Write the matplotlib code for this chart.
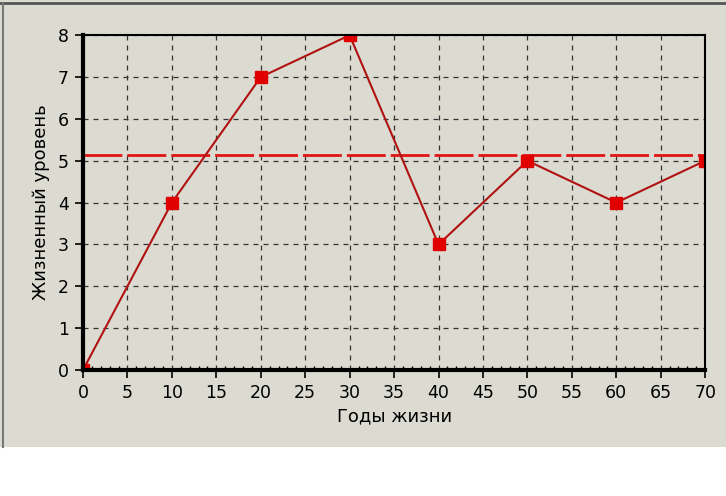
import matplotlib
matplotlib.use("Agg")
import matplotlib.pyplot as plt
from matplotlib.patches import Rectangle
from matplotlib.lines import Line2D
from matplotlib.ticker import MultipleLocator

years = [0, 10, 20, 30, 40, 50, 60, 70]
level = [0, 4, 7, 8, 3, 5, 4, 5]
ref_level = 5.13
x_ticks = list(range(0, 71, 5))
y_ticks = list(range(0, 9))
xlabel = "Годы жизни"
ylabel = "Жизненный уровень"

bg = "#dcdbd1"
fig = plt.figure(figsize=(7.26, 4.96), dpi=100, facecolor="white")
fig.patches.append(Rectangle((0, 0.099), 1, 0.901, transform=fig.transFigure,
                             facecolor=bg, edgecolor="none", zorder=-10))
fig.lines.append(Line2D([0, 1], [0.994, 0.994], transform=fig.transFigure,
                        color="#555555", lw=2, zorder=-9))
fig.lines.append(Line2D([0.004, 0.004], [0.099, 0.994], transform=fig.transFigure,
                        color="#777777", lw=1.5, zorder=-9))

ax = fig.add_axes([0.1143, 0.254, 0.857, 0.675])
ax.set_facecolor(bg)
ax.set_axisbelow(True)
ax.plot(years, level, color="#b01212", lw=1.5, marker="s", markersize=8,
        markerfacecolor="#e00000", markeredgecolor="#e00000", zorder=2.2)
ax.axhline(ref_level, color="#e01515", lw=2, dashes=(14, 1.8), zorder=2.1)

ax.set_xlim(0, 70)
ax.set_ylim(0, 8)
ax.set_xticks(x_ticks)
ax.set_yticks(y_ticks)
ax.xaxis.set_minor_locator(MultipleLocator(1))
ax.grid(True, which="major", color="#333333", ls=(0, (4, 4)), lw=0.9)
ax.tick_params(which="major", direction="out", length=6, width=1.2, labelsize=12.5,
               colors="black", pad=4)
ax.tick_params(which="minor", direction="in", length=3, width=1)
for s in ["left", "bottom"]:
    ax.spines[s].set_linewidth(3)
for s in ["top", "right"]:
    ax.spines[s].set_linewidth(1.5)
ax.set_xlabel(xlabel, fontsize=13, labelpad=4)
ax.set_ylabel(ylabel, fontsize=13, labelpad=6)

fig.savefig("out.png", dpi=100, facecolor="white")
